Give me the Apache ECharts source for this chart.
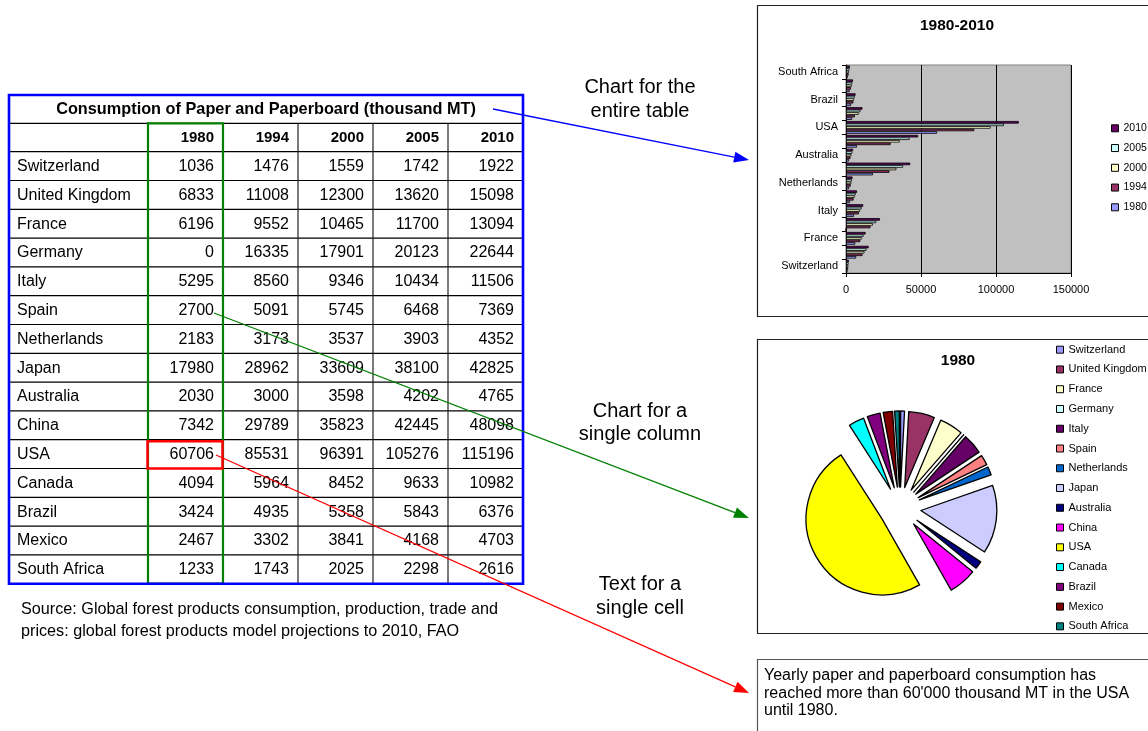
<!DOCTYPE html>
<html>
<head>
<meta charset="utf-8">
<script src="https://cdn.jsdelivr.net/npm/echarts@6/dist/echarts.min.js"></script>
<style>
  html, body { margin: 0; padding: 0; background: #fff; }
  #main { width: 1148px; height: 731px; }
</style>
</head>
<body>
<div id="main"></div>
<script>
// Consumption of paper and paperboard, thousand metric tonnes
const countries = ['Switzerland', 'United Kingdom', 'France', 'Germany', 'Italy', 'Spain', 'Netherlands',
  'Japan', 'Australia', 'China', 'USA', 'Canada', 'Brazil', 'Mexico', 'South Africa'];
const years = ['1980', '1994', '2000', '2005', '2010'];
const c1980 = [1036, 6833, 6196, 0, 5295, 2700, 2183, 17980, 2030, 7342, 60706, 4094, 3424, 2467, 1233];
const c1994 = [1476, 11008, 9552, 16335, 8560, 5091, 3173, 28962, 3000, 29789, 85531, 5964, 4935, 3302, 1743];
const c2000 = [1559, 12300, 10465, 17901, 9346, 5745, 3537, 33609, 3598, 35823, 96391, 8452, 5358, 3841, 2025];
const c2005 = [1742, 13620, 11700, 20123, 10434, 6468, 3903, 38100, 4202, 42445, 105276, 9633, 5843, 4168, 2298];
const c2010 = [1922, 15098, 13094, 22644, 11506, 7369, 4352, 42825, 4765, 48098, 115196, 10982, 6376, 4703, 2616];
const byYear = [c1980, c1994, c2000, c2005, c2010];

// value axis of the bar chart
const xMin = 0, xMax = 150000, xStep = 50000;

const tableTitle = 'Consumption of Paper and Paperboard (thousand MT)';
const sourceLines = ['Source: Global forest products consumption, production, trade and',
  'prices: global forest products model projections to 2010, FAO'];
const noteLines = ['Yearly paper and paperboard consumption has',
  "reached more than 60'000 thousand MT in the USA", 'until 1980.'];

const yearColors = { '1980': '#9999FF', '1994': '#993366', '2000': '#FFFFCC', '2005': '#CCFFFF', '2010': '#660066' };
const pieColors = ['#9999FF', '#993366', '#FFFFCC', '#CCFFFF', '#660066', '#FF8080', '#0066CC',
  '#CCCCFF', '#000080', '#FF00FF', '#FFFF00', '#00FFFF', '#800080', '#800000', '#008080'];

const FAM = '"Liberation Sans", Arial, Helvetica, sans-serif';
const g = [];

function txt(x, y, s, font, align, color) {
  g.push({
    type: 'text', x: x, y: y, z: 60,
    style: { text: s, font: font, fill: color || '#000', align: align || 'left', verticalAlign: 'middle',
      textAlign: align || 'left', textVerticalAlign: 'middle' }
  });
}
function seg(x1, y1, x2, y2, color, w, z) {
  g.push({ type: 'line', z: z || 40, shape: { x1: x1, y1: y1, x2: x2, y2: y2 }, style: { stroke: color, lineWidth: w } });
}
function box(x, y, w, h, color, lw, fill, z) {
  g.push({ type: 'rect', z: z || 40, shape: { x: x, y: y, width: w, height: h },
    style: { stroke: color, lineWidth: lw, fill: fill || 'none' } });
}
function arrow(x1, y1, x2, y2, color) {
  const L = 15, W = 5.5;
  const dx = x2 - x1, dy = y2 - y1, len = Math.hypot(dx, dy), ux = dx / len, uy = dy / len;
  const bx = x2 - ux * L, by = y2 - uy * L;
  seg(x1, y1, bx, by, color, 1.3, 100);
  g.push({ type: 'polygon', z: 100,
    shape: { points: [[x2, y2], [bx - uy * W, by + ux * W], [bx + uy * W, by - ux * W]] },
    style: { fill: color } });
}

// ---- data table ----
const colX = [9, 148, 223, 298, 373, 448, 523];
const tTop = 95, titleBot = 123.3, headBot = 151.7, rowH = 28.8;
const tBot = headBot + rowH * countries.length;
const rowY = i => headBot + rowH * i;

txt((colX[0] + colX[6]) / 2, (tTop + titleBot) / 2 + 0.5, tableTitle, 'bold 16.3px ' + FAM, 'center');
years.forEach((yr, j) => txt(colX[j + 2] - 9, (titleBot + headBot) / 2 + 0.5, yr, 'bold 15px ' + FAM, 'right'));
countries.forEach((name, i) => {
  const cy = rowY(i) + rowH / 2 + 0.5;
  txt(colX[0] + 8, cy, name, '16px ' + FAM, 'left');
  byYear.forEach((arr, j) => txt(colX[j + 2] - 9, cy, String(arr[i]), '16px ' + FAM, 'right'));
});
seg(colX[0], titleBot, colX[6], titleBot, '#000', 1.2);
for (let i = 0; i < countries.length; i++) seg(colX[0], rowY(i), colX[6], rowY(i), '#000', 1.2);
for (let j = 1; j < 6; j++) seg(colX[j], titleBot, colX[j], tBot, '#222', 1.2);
box(colX[1], titleBot, colX[2] - colX[1], tBot - titleBot, '#008000', 2.2, null, 45);
const usa = countries.indexOf('USA');
box(colX[1] - 0.5, rowY(usa) + 1.5, colX[2] - colX[1], rowH - 1.5, '#FF0000', 2.5, null, 46);
box(colX[0], tTop, colX[6] - colX[0], tBot - tTop, '#0000FF', 2.6, null, 47);

sourceLines.forEach((s, i) => txt(21, 610 + i * 21.5, s, '16.2px ' + FAM, 'left'));

// ---- annotations ----
txt(640, 87, 'Chart for the', '20px ' + FAM, 'center');
txt(640, 111, 'entire table', '20px ' + FAM, 'center');
txt(640, 411, 'Chart for a', '20px ' + FAM, 'center');
txt(640, 434, 'single column', '20px ' + FAM, 'center');
txt(640, 584, 'Text for a', '20px ' + FAM, 'center');
txt(640, 608, 'single cell', '20px ' + FAM, 'center');
arrow(493, 109, 749, 160, '#0000FF');
arrow(214, 313, 749, 518, '#008000');
arrow(216, 455, 749, 693, '#FF0000');

// ---- chart frames and titles ----
box(757.5, 5.5, 420, 311, '#222', 1.2, null, 1);
box(757.5, 339.5, 420, 294, '#222', 1.2, null, 1);
box(757.5, 659.5, 420, 100, '#555', 1.2, null, 1);
txt(957, 26, '1980-2010', 'bold 15.5px ' + FAM, 'center');
txt(958, 361, '1980', 'bold 15.5px ' + FAM, 'center');
noteLines.forEach((s, i) => txt(764, 676 + i * 17.5, s, '16px ' + FAM, 'left'));

const barOrder = years.slice().reverse();
const barSeries = barOrder.map(yr => ({
  name: yr, type: 'bar', xAxisIndex: 0, yAxisIndex: 0,
  data: byYear[years.indexOf(yr)],
  barGap: '0%', barCategoryGap: '8%',
  itemStyle: { color: yearColors[yr], borderColor: '#000', borderWidth: 0.8 },
  emphasis: { disabled: true }
}));

const option = {
  animation: false,
  backgroundColor: '#fff',
  textStyle: { fontFamily: FAM },
  grid: [{ left: 846, top: 65, width: 225, height: 208, show: true, backgroundColor: '#C0C0C0',
    borderColor: '#808080', borderWidth: 1, containLabel: false }],
  xAxis: [{
    type: 'value', gridIndex: 0, min: xMin, max: xMax, interval: xStep,
    axisLine: { show: true, lineStyle: { color: '#000', width: 1 } },
    axisTick: { show: true, length: 4, lineStyle: { color: '#000' } },
    axisLabel: { show: true, color: '#000', fontSize: 11, margin: 11, fontFamily: FAM,
      formatter: v => String(v) },
    splitLine: { show: true, lineStyle: { color: '#000', width: 1 } }
  }],
  yAxis: [{
    type: 'category', gridIndex: 0, data: countries,
    axisLine: { show: true, onZero: false, lineStyle: { color: '#000', width: 1 } },
    axisTick: { show: true, length: 4, interval: 0, alignWithLabel: false, lineStyle: { color: '#000' } },
    axisLabel: { show: true, interval: 1, color: '#000', fontSize: 11, margin: 8, fontFamily: FAM },
    splitLine: { show: false }
  }],
  legend: [{
    data: barOrder, orient: 'vertical', left: 1111, top: 122.3, padding: 0,
    icon: 'rect', itemWidth: 7, itemHeight: 7, itemGap: 7.75,
    itemStyle: { borderColor: '#000', borderWidth: 1 },
    textStyle: { color: '#000', fontSize: 10.5, lineHeight: 12, fontFamily: FAM },
    selectedMode: false
  }, {
    data: countries, orient: 'vertical', left: 1056, top: 343.7, padding: 0,
    icon: 'rect', itemWidth: 7, itemHeight: 7, itemGap: 7.76,
    itemStyle: { borderColor: '#000', borderWidth: 1 },
    textStyle: { color: '#000', fontSize: 11, lineHeight: 12, fontFamily: FAM },
    selectedMode: false
  }],
  series: barSeries.concat([{
    name: '1980', type: 'pie', center: [900, 508], radius: 76, startAngle: 90, clockwise: true,
    selectedMode: 'multiple', selectedOffset: 21,
    data: countries.map((n, i) => ({ name: n, value: c1980[i], selected: true, itemStyle: { color: pieColors[i] } })),
    label: { show: false }, labelLine: { show: false },
    itemStyle: { borderColor: '#000', borderWidth: 1.3 },
    select: { itemStyle: { borderColor: '#000', borderWidth: 1.3 } },
    emphasis: { disabled: true }
  }]),
  graphic: { elements: g }
};

const chart = echarts.init(document.getElementById('main'), null, { renderer: 'canvas' });
chart.setOption(option);
</script>
</body>
</html>
